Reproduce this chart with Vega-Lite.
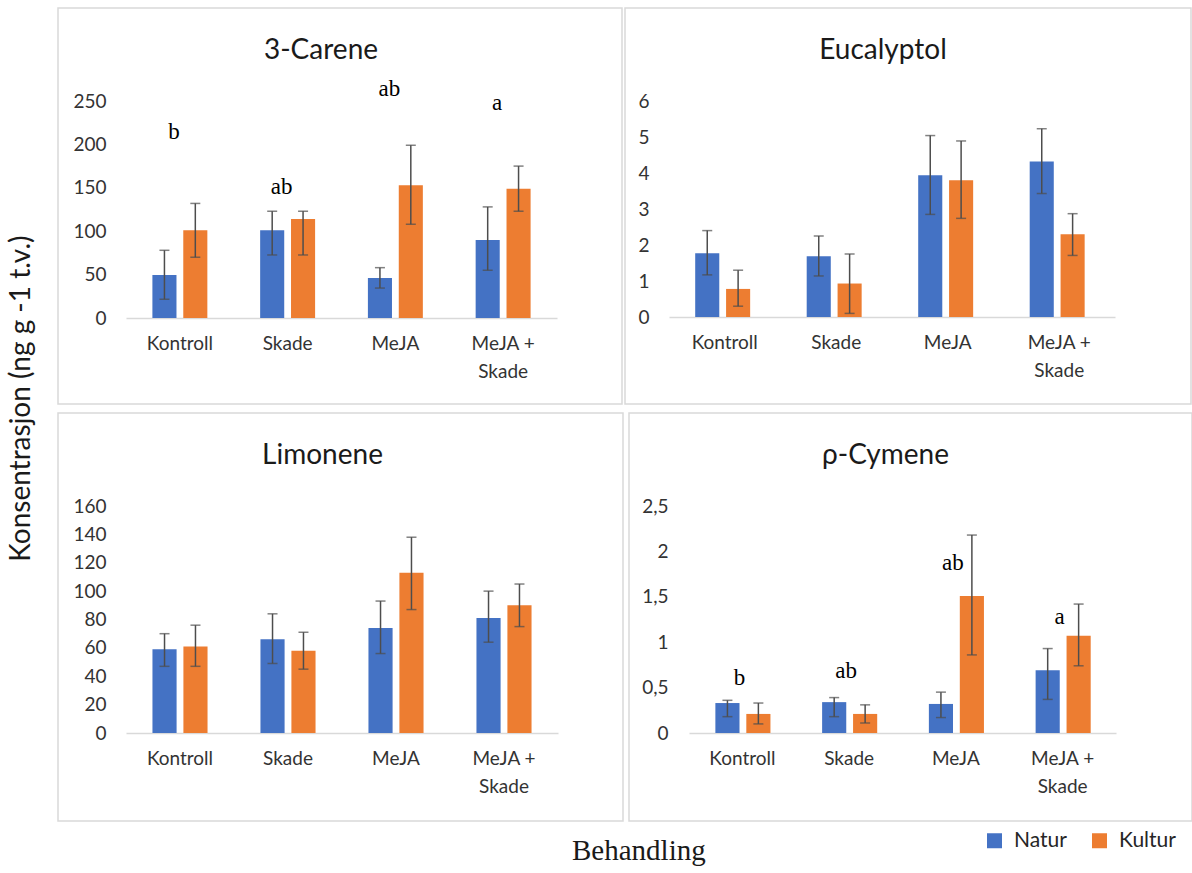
{
  "$schema": "https://vega.github.io/schema/vega-lite/v6.json",
  "autosize": {"type": "pad"},
  "padding": {"left": 8, "top": 7, "right": 2, "bottom": 2},
  "background": "white",
  "title": {"text": "Konsentrasjon (ng g -1 t.v.)", "orient": "left", "anchor": "middle", "font": "Lato", "fontSize": 28, "fontWeight": "normal", "color": "#1a1a1a", "offset": 21, "dx": 38},
  "config": {
    "view": {"stroke": "#d9d9d9", "strokeWidth": 1.5},
    "axis": {"labelFont": "Lato", "labelFontSize": 19, "labelColor": "#333333", "ticks": false, "tickSize": 0, "domain": false, "grid": false, "title": null},
    "title": {"font": "Lato", "fontSize": 28, "fontWeight": "normal", "color": "#1a1a1a"},
    "legend": {"labelFont": "Lato", "labelFontSize": 21, "labelColor": "#262626"}
  },
  "datasets": {
    "bars": [
      {"compound": "3-Carene", "treatment": "Kontroll", "group": "Natur", "mean": 49.5, "lo": 21.6, "hi": 78},
      {"compound": "3-Carene", "treatment": "Kontroll", "group": "Kultur", "mean": 101, "lo": 70, "hi": 132},
      {"compound": "3-Carene", "treatment": "Skade", "group": "Natur", "mean": 101, "lo": 72.6, "hi": 123},
      {"compound": "3-Carene", "treatment": "Skade", "group": "Kultur", "mean": 114, "lo": 72.6, "hi": 123},
      {"compound": "3-Carene", "treatment": "MeJA", "group": "Natur", "mean": 46, "lo": 34.5, "hi": 58},
      {"compound": "3-Carene", "treatment": "MeJA", "group": "Kultur", "mean": 153, "lo": 108, "hi": 199},
      {"compound": "3-Carene", "treatment": "MeJA + Skade", "group": "Natur", "mean": 90, "lo": 55, "hi": 128},
      {"compound": "3-Carene", "treatment": "MeJA + Skade", "group": "Kultur", "mean": 149, "lo": 123, "hi": 175},
      {"compound": "Eucalyptol", "treatment": "Kontroll", "group": "Natur", "mean": 1.77, "lo": 1.17, "hi": 2.4},
      {"compound": "Eucalyptol", "treatment": "Kontroll", "group": "Kultur", "mean": 0.78, "lo": 0.3, "hi": 1.3},
      {"compound": "Eucalyptol", "treatment": "Skade", "group": "Natur", "mean": 1.69, "lo": 1.14, "hi": 2.25},
      {"compound": "Eucalyptol", "treatment": "Skade", "group": "Kultur", "mean": 0.93, "lo": 0.1, "hi": 1.75},
      {"compound": "Eucalyptol", "treatment": "MeJA", "group": "Natur", "mean": 3.94, "lo": 2.85, "hi": 5.04},
      {"compound": "Eucalyptol", "treatment": "MeJA", "group": "Kultur", "mean": 3.8, "lo": 2.74, "hi": 4.89},
      {"compound": "Eucalyptol", "treatment": "MeJA + Skade", "group": "Natur", "mean": 4.32, "lo": 3.43, "hi": 5.23},
      {"compound": "Eucalyptol", "treatment": "MeJA + Skade", "group": "Kultur", "mean": 2.3, "lo": 1.71, "hi": 2.87},
      {"compound": "Limonene", "treatment": "Kontroll", "group": "Natur", "mean": 59, "lo": 47, "hi": 70},
      {"compound": "Limonene", "treatment": "Kontroll", "group": "Kultur", "mean": 61, "lo": 47, "hi": 76},
      {"compound": "Limonene", "treatment": "Skade", "group": "Natur", "mean": 66, "lo": 49, "hi": 84},
      {"compound": "Limonene", "treatment": "Skade", "group": "Kultur", "mean": 58, "lo": 45, "hi": 71},
      {"compound": "Limonene", "treatment": "MeJA", "group": "Natur", "mean": 74, "lo": 56, "hi": 93},
      {"compound": "Limonene", "treatment": "MeJA", "group": "Kultur", "mean": 113, "lo": 87, "hi": 138},
      {"compound": "Limonene", "treatment": "MeJA + Skade", "group": "Natur", "mean": 81, "lo": 64, "hi": 100},
      {"compound": "Limonene", "treatment": "MeJA + Skade", "group": "Kultur", "mean": 90, "lo": 75, "hi": 105},
      {"compound": "p-Cymene", "treatment": "Kontroll", "group": "Natur", "mean": 0.33, "lo": 0.18, "hi": 0.36},
      {"compound": "p-Cymene", "treatment": "Kontroll", "group": "Kultur", "mean": 0.21, "lo": 0.1, "hi": 0.33},
      {"compound": "p-Cymene", "treatment": "Skade", "group": "Natur", "mean": 0.34, "lo": 0.18, "hi": 0.39},
      {"compound": "p-Cymene", "treatment": "Skade", "group": "Kultur", "mean": 0.21, "lo": 0.11, "hi": 0.31},
      {"compound": "p-Cymene", "treatment": "MeJA", "group": "Natur", "mean": 0.32, "lo": 0.17, "hi": 0.45},
      {"compound": "p-Cymene", "treatment": "MeJA", "group": "Kultur", "mean": 1.51, "lo": 0.86, "hi": 2.18},
      {"compound": "p-Cymene", "treatment": "MeJA + Skade", "group": "Natur", "mean": 0.69, "lo": 0.37, "hi": 0.93},
      {"compound": "p-Cymene", "treatment": "MeJA + Skade", "group": "Kultur", "mean": 1.07, "lo": 0.74, "hi": 1.42}
    ],
    "letters": [
      {"compound": "3-Carene", "treatment": "Kontroll", "pos": 214, "letter": "b"},
      {"compound": "3-Carene", "treatment": "Skade", "pos": 151, "letter": "ab"},
      {"compound": "3-Carene", "treatment": "MeJA", "pos": 264, "letter": "ab"},
      {"compound": "3-Carene", "treatment": "MeJA + Skade", "pos": 248, "letter": "a"},
      {"compound": "p-Cymene", "treatment": "Kontroll", "pos": 0.607, "letter": "b"},
      {"compound": "p-Cymene", "treatment": "Skade", "pos": 0.68, "letter": "ab"},
      {"compound": "p-Cymene", "treatment": "MeJA", "pos": 1.875, "letter": "ab"},
      {"compound": "p-Cymene", "treatment": "MeJA + Skade", "pos": 1.276, "letter": "a"}
    ]
  },
  "resolve": {"scale": {"x": "independent", "y": "independent", "xOffset": "independent", "color": "shared"}},
  "spacing": 7,
  "vconcat": [
    {
      "spacing": 1,
      "hconcat": [
        {
          "width": 564, "height": 396,
          "title": {"text": "3-Carene", "offset": -57, "dx": -19},
          "layer": [
            {"data": {"name": "bars"}, "transform": [{"filter": "datum.compound === '3-Carene'"}],
             "mark": {"type": "bar"},
             "encoding": {
               "x": {"field": "treatment", "type": "nominal", "sort": ["Kontroll", "Skade", "MeJA", "MeJA + Skade"],
                     "scale": {"range": [68, 499], "paddingInner": 0.49, "paddingOuter": 0.245},
                     "axis": {"offset": -86, "labelPadding": 16, "labelAngle": 0, "domain": true, "domainColor": "#d9d9d9", "domainWidth": 1.5, "labelLineHeight": 28, "labelExpr": "datum.label === 'MeJA + Skade' ? ['MeJA +', 'Skade'] : datum.label", "title": null}},
               "xOffset": {"field": "group", "type": "nominal", "sort": ["Natur", "Kultur"], "scale": {"paddingInner": 0.22}},
               "y": {"field": "mean", "type": "quantitative", "scale": {"domain": [0, 250], "range": [310, 93], "nice": false},
                     "axis": {"offset": -50, "labelPadding": 2, "values": [0, 50, 100, 150, 200, 250], "format": "d", "title": null}},
               "color": {"field": "group", "type": "nominal", "sort": ["Natur", "Kultur"], "scale": {"domain": ["Natur", "Kultur"], "range": ["#4472C4", "#ED7D31"]},
                         "legend": {"orient": "none", "legendX": 514, "legendY": 822, "direction": "horizontal", "title": "Behandling", "titleOrient": "left", "titleFont": "Liberation Serif", "titleFontSize": 29, "titleFontWeight": "normal", "titleColor": "#1a1a1a", "titlePadding": 278, "titleBaseline": "line-top", "titleLineHeight": 24, "symbolType": "square", "symbolSize": 225, "symbolStrokeWidth": 0, "labelOffset": 9, "columnPadding": 22}}
             }},
            {"data": {"name": "bars"}, "transform": [{"filter": "datum.compound === '3-Carene'"}],
             "mark": {"type": "rule", "color": "#4d4d4d", "strokeWidth": 1.5},
             "encoding": {"x": {"field": "treatment", "type": "nominal", "sort": ["Kontroll", "Skade", "MeJA", "MeJA + Skade"]}, "xOffset": {"field": "group", "type": "nominal", "sort": ["Natur", "Kultur"]}, "y": {"field": "lo", "type": "quantitative"}, "y2": {"field": "hi"}}},
            {"data": {"name": "bars"}, "transform": [{"filter": "datum.compound === '3-Carene'"}],
             "mark": {"type": "tick", "color": "#4d4d4d", "size": 10, "thickness": 1.5},
             "encoding": {"x": {"field": "treatment", "type": "nominal", "sort": ["Kontroll", "Skade", "MeJA", "MeJA + Skade"]}, "xOffset": {"field": "group", "type": "nominal", "sort": ["Natur", "Kultur"]}, "y": {"field": "lo", "type": "quantitative"}}},
            {"data": {"name": "bars"}, "transform": [{"filter": "datum.compound === '3-Carene'"}],
             "mark": {"type": "tick", "color": "#4d4d4d", "size": 10, "thickness": 1.5},
             "encoding": {"x": {"field": "treatment", "type": "nominal", "sort": ["Kontroll", "Skade", "MeJA", "MeJA + Skade"]}, "xOffset": {"field": "group", "type": "nominal", "sort": ["Natur", "Kultur"]}, "y": {"field": "hi", "type": "quantitative"}}},
            {"data": {"name": "letters"}, "transform": [{"filter": "datum.compound === '3-Carene'"}],
             "mark": {"type": "text", "font": "Liberation Serif", "fontSize": 23, "dx": -6, "color": "#000000"},
             "encoding": {"x": {"field": "treatment", "type": "nominal", "sort": ["Kontroll", "Skade", "MeJA", "MeJA + Skade"]}, "y": {"field": "pos", "type": "quantitative"}, "text": {"field": "letter"}}}
          ]
        },
        {
          "width": 566, "height": 396,
          "title": {"text": "Eucalyptol", "offset": -57, "dx": -25},
          "layer": [
            {"data": {"name": "bars"}, "transform": [{"filter": "datum.compound === 'Eucalyptol'"}],
             "mark": {"type": "bar"},
             "encoding": {
               "x": {"field": "treatment", "type": "nominal", "sort": ["Kontroll", "Skade", "MeJA", "MeJA + Skade"],
                     "scale": {"range": [44, 490], "paddingInner": 0.47, "paddingOuter": 0.235},
                     "axis": {"offset": -87, "labelPadding": 16, "labelAngle": 0, "domain": true, "domainColor": "#d9d9d9", "domainWidth": 1.5, "labelLineHeight": 28, "labelExpr": "datum.label === 'MeJA + Skade' ? ['MeJA +', 'Skade'] : datum.label", "title": null}},
               "xOffset": {"field": "group", "type": "nominal", "sort": ["Natur", "Kultur"], "scale": {"paddingInner": 0.21}},
               "y": {"field": "mean", "type": "quantitative", "scale": {"domain": [0, 6], "range": [309, 93], "nice": false},
                     "axis": {"offset": -26, "labelPadding": 2, "values": [0, 1, 2, 3, 4, 5, 6], "format": "d", "title": null}},
               "color": {"field": "group", "type": "nominal", "sort": ["Natur", "Kultur"], "scale": {"domain": ["Natur", "Kultur"], "range": ["#4472C4", "#ED7D31"]},
                         "legend": {"orient": "none", "legendX": 514, "legendY": 822, "direction": "horizontal", "title": "Behandling", "titleOrient": "left", "titleFont": "Liberation Serif", "titleFontSize": 29, "titleFontWeight": "normal", "titleColor": "#1a1a1a", "titlePadding": 278, "titleBaseline": "line-top", "titleLineHeight": 24, "symbolType": "square", "symbolSize": 225, "symbolStrokeWidth": 0, "labelOffset": 9, "columnPadding": 22}}
             }},
            {"data": {"name": "bars"}, "transform": [{"filter": "datum.compound === 'Eucalyptol'"}],
             "mark": {"type": "rule", "color": "#4d4d4d", "strokeWidth": 1.5},
             "encoding": {"x": {"field": "treatment", "type": "nominal", "sort": ["Kontroll", "Skade", "MeJA", "MeJA + Skade"]}, "xOffset": {"field": "group", "type": "nominal", "sort": ["Natur", "Kultur"]}, "y": {"field": "lo", "type": "quantitative"}, "y2": {"field": "hi"}}},
            {"data": {"name": "bars"}, "transform": [{"filter": "datum.compound === 'Eucalyptol'"}],
             "mark": {"type": "tick", "color": "#4d4d4d", "size": 10, "thickness": 1.5},
             "encoding": {"x": {"field": "treatment", "type": "nominal", "sort": ["Kontroll", "Skade", "MeJA", "MeJA + Skade"]}, "xOffset": {"field": "group", "type": "nominal", "sort": ["Natur", "Kultur"]}, "y": {"field": "lo", "type": "quantitative"}}},
            {"data": {"name": "bars"}, "transform": [{"filter": "datum.compound === 'Eucalyptol'"}],
             "mark": {"type": "tick", "color": "#4d4d4d", "size": 10, "thickness": 1.5},
             "encoding": {"x": {"field": "treatment", "type": "nominal", "sort": ["Kontroll", "Skade", "MeJA", "MeJA + Skade"]}, "xOffset": {"field": "group", "type": "nominal", "sort": ["Natur", "Kultur"]}, "y": {"field": "hi", "type": "quantitative"}}}
          ]
        }
      ]
    },
    {
      "spacing": 4,
      "hconcat": [
        {
          "width": 565, "height": 408,
          "title": {"text": "Limonene", "offset": -57, "dx": -18},
          "layer": [
            {"data": {"name": "bars"}, "transform": [{"filter": "datum.compound === 'Limonene'"}],
             "mark": {"type": "bar"},
             "encoding": {
               "x": {"field": "treatment", "type": "nominal", "sort": ["Kontroll", "Skade", "MeJA", "MeJA + Skade"],
                     "scale": {"range": [68, 500], "paddingInner": 0.49, "paddingOuter": 0.245},
                     "axis": {"offset": -88, "labelPadding": 16, "labelAngle": 0, "domain": true, "domainColor": "#d9d9d9", "domainWidth": 1.5, "labelLineHeight": 28, "labelExpr": "datum.label === 'MeJA + Skade' ? ['MeJA +', 'Skade'] : datum.label", "title": null}},
               "xOffset": {"field": "group", "type": "nominal", "sort": ["Natur", "Kultur"], "scale": {"paddingInner": 0.22}},
               "y": {"field": "mean", "type": "quantitative", "scale": {"domain": [0, 160], "range": [320, 93], "nice": false},
                     "axis": {"offset": -50, "labelPadding": 2, "values": [0, 20, 40, 60, 80, 100, 120, 140, 160], "format": "d", "title": null}},
               "color": {"field": "group", "type": "nominal", "sort": ["Natur", "Kultur"], "scale": {"domain": ["Natur", "Kultur"], "range": ["#4472C4", "#ED7D31"]},
                         "legend": {"orient": "none", "legendX": 514, "legendY": 822, "direction": "horizontal", "title": "Behandling", "titleOrient": "left", "titleFont": "Liberation Serif", "titleFontSize": 29, "titleFontWeight": "normal", "titleColor": "#1a1a1a", "titlePadding": 278, "titleBaseline": "line-top", "titleLineHeight": 24, "symbolType": "square", "symbolSize": 225, "symbolStrokeWidth": 0, "labelOffset": 9, "columnPadding": 22}}
             }},
            {"data": {"name": "bars"}, "transform": [{"filter": "datum.compound === 'Limonene'"}],
             "mark": {"type": "rule", "color": "#4d4d4d", "strokeWidth": 1.5},
             "encoding": {"x": {"field": "treatment", "type": "nominal", "sort": ["Kontroll", "Skade", "MeJA", "MeJA + Skade"]}, "xOffset": {"field": "group", "type": "nominal", "sort": ["Natur", "Kultur"]}, "y": {"field": "lo", "type": "quantitative"}, "y2": {"field": "hi"}}},
            {"data": {"name": "bars"}, "transform": [{"filter": "datum.compound === 'Limonene'"}],
             "mark": {"type": "tick", "color": "#4d4d4d", "size": 10, "thickness": 1.5},
             "encoding": {"x": {"field": "treatment", "type": "nominal", "sort": ["Kontroll", "Skade", "MeJA", "MeJA + Skade"]}, "xOffset": {"field": "group", "type": "nominal", "sort": ["Natur", "Kultur"]}, "y": {"field": "lo", "type": "quantitative"}}},
            {"data": {"name": "bars"}, "transform": [{"filter": "datum.compound === 'Limonene'"}],
             "mark": {"type": "tick", "color": "#4d4d4d", "size": 10, "thickness": 1.5},
             "encoding": {"x": {"field": "treatment", "type": "nominal", "sort": ["Kontroll", "Skade", "MeJA", "MeJA + Skade"]}, "xOffset": {"field": "group", "type": "nominal", "sort": ["Natur", "Kultur"]}, "y": {"field": "hi", "type": "quantitative"}}}
          ]
        },
        {
          "width": 563, "height": 408,
          "title": {"text": "ρ-Cymene", "offset": -57, "dx": -25},
          "layer": [
            {"data": {"name": "bars"}, "transform": [{"filter": "datum.compound === 'p-Cymene'"}],
             "mark": {"type": "bar"},
             "encoding": {
               "x": {"field": "treatment", "type": "nominal", "sort": ["Kontroll", "Skade", "MeJA", "MeJA + Skade"],
                     "scale": {"range": [60, 487], "paddingInner": 0.494, "paddingOuter": 0.247},
                     "axis": {"offset": -88, "labelPadding": 16, "labelAngle": 0, "domain": true, "domainColor": "#d9d9d9", "domainWidth": 1.5, "labelLineHeight": 28, "labelExpr": "datum.label === 'MeJA + Skade' ? ['MeJA +', 'Skade'] : datum.label", "title": null}},
               "xOffset": {"field": "group", "type": "nominal", "sort": ["Natur", "Kultur"], "scale": {"paddingInner": 0.22}},
               "y": {"field": "mean", "type": "quantitative", "scale": {"domain": [0, 2.5], "range": [320, 93], "nice": false},
                     "axis": {"offset": -41, "labelPadding": 2, "values": [0, 0.5, 1, 1.5, 2, 2.5], "labelExpr": "replace(format(datum.value, '~g'), '.', ',')", "title": null}},
               "color": {"field": "group", "type": "nominal", "sort": ["Natur", "Kultur"], "scale": {"domain": ["Natur", "Kultur"], "range": ["#4472C4", "#ED7D31"]},
                         "legend": {"orient": "none", "legendX": 514, "legendY": 822, "direction": "horizontal", "title": "Behandling", "titleOrient": "left", "titleFont": "Liberation Serif", "titleFontSize": 29, "titleFontWeight": "normal", "titleColor": "#1a1a1a", "titlePadding": 278, "titleBaseline": "line-top", "titleLineHeight": 24, "symbolType": "square", "symbolSize": 225, "symbolStrokeWidth": 0, "labelOffset": 9, "columnPadding": 22}}
             }},
            {"data": {"name": "bars"}, "transform": [{"filter": "datum.compound === 'p-Cymene'"}],
             "mark": {"type": "rule", "color": "#4d4d4d", "strokeWidth": 1.5},
             "encoding": {"x": {"field": "treatment", "type": "nominal", "sort": ["Kontroll", "Skade", "MeJA", "MeJA + Skade"]}, "xOffset": {"field": "group", "type": "nominal", "sort": ["Natur", "Kultur"]}, "y": {"field": "lo", "type": "quantitative"}, "y2": {"field": "hi"}}},
            {"data": {"name": "bars"}, "transform": [{"filter": "datum.compound === 'p-Cymene'"}],
             "mark": {"type": "tick", "color": "#4d4d4d", "size": 10, "thickness": 1.5},
             "encoding": {"x": {"field": "treatment", "type": "nominal", "sort": ["Kontroll", "Skade", "MeJA", "MeJA + Skade"]}, "xOffset": {"field": "group", "type": "nominal", "sort": ["Natur", "Kultur"]}, "y": {"field": "lo", "type": "quantitative"}}},
            {"data": {"name": "bars"}, "transform": [{"filter": "datum.compound === 'p-Cymene'"}],
             "mark": {"type": "tick", "color": "#4d4d4d", "size": 10, "thickness": 1.5},
             "encoding": {"x": {"field": "treatment", "type": "nominal", "sort": ["Kontroll", "Skade", "MeJA", "MeJA + Skade"]}, "xOffset": {"field": "group", "type": "nominal", "sort": ["Natur", "Kultur"]}, "y": {"field": "hi", "type": "quantitative"}}},
            {"data": {"name": "letters"}, "transform": [{"filter": "datum.compound === 'p-Cymene'"}],
             "mark": {"type": "text", "font": "Liberation Serif", "fontSize": 23, "dx": -3, "color": "#000000"},
             "encoding": {"x": {"field": "treatment", "type": "nominal", "sort": ["Kontroll", "Skade", "MeJA", "MeJA + Skade"]}, "y": {"field": "pos", "type": "quantitative"}, "text": {"field": "letter"}}}
          ]
        }
      ]
    }
  ]
}
